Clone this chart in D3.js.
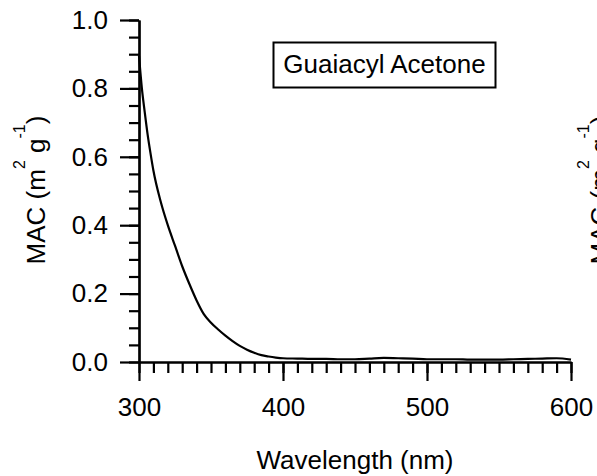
<!DOCTYPE html>
<html>
<head>
<meta charset="utf-8">
<script src="https://cdn.jsdelivr.net/npm/d3@7"></script>
<style>
  html, body { margin: 0; padding: 0; background: #fff; }
  svg { display: block; }
  text { font-family: "Liberation Sans", Arial, Helvetica, sans-serif; fill: #000; }
</style>
</head>
<body>
<svg id="chart" width="597" height="476"></svg>
<script>
// ---- data ----
const wavelengths = [300, 302, 304, 306, 308, 310, 315, 320, 325, 330, 335, 340, 345, 350, 355, 360, 365, 370, 375, 380, 385, 390, 395, 400, 410, 420, 430, 440, 450, 460, 470, 480, 490, 500, 510, 520, 530, 540, 550, 560, 570, 580, 590, 600];
const macValues   = [0.895, 0.80, 0.73, 0.665, 0.61, 0.56, 0.47, 0.40, 0.34, 0.28, 0.228, 0.18, 0.14, 0.115, 0.095, 0.077, 0.061, 0.047, 0.036, 0.027, 0.020, 0.016, 0.013, 0.011, 0.010, 0.009, 0.009, 0.008, 0.008, 0.010, 0.012, 0.011, 0.010, 0.008, 0.008, 0.008, 0.007, 0.007, 0.007, 0.008, 0.009, 0.010, 0.011, 0.007];
const xMajorTicks = [300, 400, 500, 600];
const yMajorTicks = [0.0, 0.2, 0.4, 0.6, 0.8, 1.0];
const xMinorTicks = d3.range(300, 601, 10);
const yMinorTicks = d3.range(0, 1.0001, 0.05);
const legendLabel = "Guaiacyl Acetone";
const xTitle = "Wavelength (nm)";

// ---- layout ----
const svg = d3.select("#chart");
const FS = 26;
const x = d3.scaleLinear().domain([300, 600]).range([139, 571]);
const y = d3.scaleLinear().domain([0, 1]).range([362, 20]);

function styleAxis(g) {
  g.selectAll("path, line").attr("stroke", "#000").attr("stroke-width", 2.2);
  g.selectAll("text").style("font-size", FS + "px").attr("fill", "#000")
    .style("font-family", '"Liberation Sans", Arial, sans-serif');
}

// minor ticks
svg.append("g").attr("transform", `translate(0,${y(0)})`)
  .call(d3.axisBottom(x).tickValues(xMinorTicks).tickSize(11).tickSizeOuter(0).tickFormat(""))
  .call(styleAxis);
svg.append("g").attr("transform", `translate(${x(300)},0)`)
  .call(d3.axisLeft(y).tickValues(yMinorTicks).tickSize(10).tickSizeOuter(0).tickFormat(""))
  .call(styleAxis);

// major ticks + labels
svg.append("g").attr("transform", `translate(0,${y(0)})`)
  .call(d3.axisBottom(x).tickValues(xMajorTicks).tickSize(19).tickSizeOuter(0).tickPadding(17).tickFormat(d3.format("d")))
  .call(styleAxis);
svg.append("g").attr("transform", `translate(${x(300)},0)`)
  .call(d3.axisLeft(y).tickValues(yMajorTicks).tickSize(19).tickSizeOuter(0).tickPadding(12).tickFormat(d3.format(".1f")))
  .call(styleAxis);

// curve
const pts = wavelengths.map((w, i) => [w, macValues[i]]);
svg.append("path")
  .datum(pts)
  .attr("fill", "none")
  .attr("stroke", "#000")
  .attr("stroke-width", 2.2)
  .attr("stroke-linejoin", "round")
  .attr("d", d3.line().x(d => x(d[0])).y(d => y(d[1])).curve(d3.curveMonotoneX));

// legend box
svg.append("rect")
  .attr("x", 273.5).attr("y", 42.5).attr("width", 222).attr("height", 45)
  .attr("fill", "#fff").attr("stroke", "#000").attr("stroke-width", 2);
svg.append("text")
  .attr("x", 384.5).attr("y", 73)
  .attr("text-anchor", "middle")
  .style("font-size", FS + "px")
  .text(legendLabel);

// x title
svg.append("text")
  .attr("x", 355).attr("y", 469)
  .attr("text-anchor", "middle")
  .style("font-size", FS + "px")
  .text(xTitle);

// y titles (left, and the neighbouring panel's one, cut by the right edge as in the reference)
function yTitle(bx, cy) {
  const t = svg.append("text")
    .attr("transform", `translate(${bx},${cy}) rotate(-90)`)
    .attr("text-anchor", "middle")
    .style("font-size", FS + "px");
  t.append("tspan").text("MAC (m");
  t.append("tspan").attr("dy", -20).style("font-size", "16px").text("2");
  t.append("tspan").attr("dy", 20).text(" g");
  t.append("tspan").attr("dy", -20).style("font-size", "16px").text("-1");
  t.append("tspan").attr("dy", 20).text(")");
}
yTitle(45, 190);
yTitle(609, 190);
</script>
</body>
</html>
